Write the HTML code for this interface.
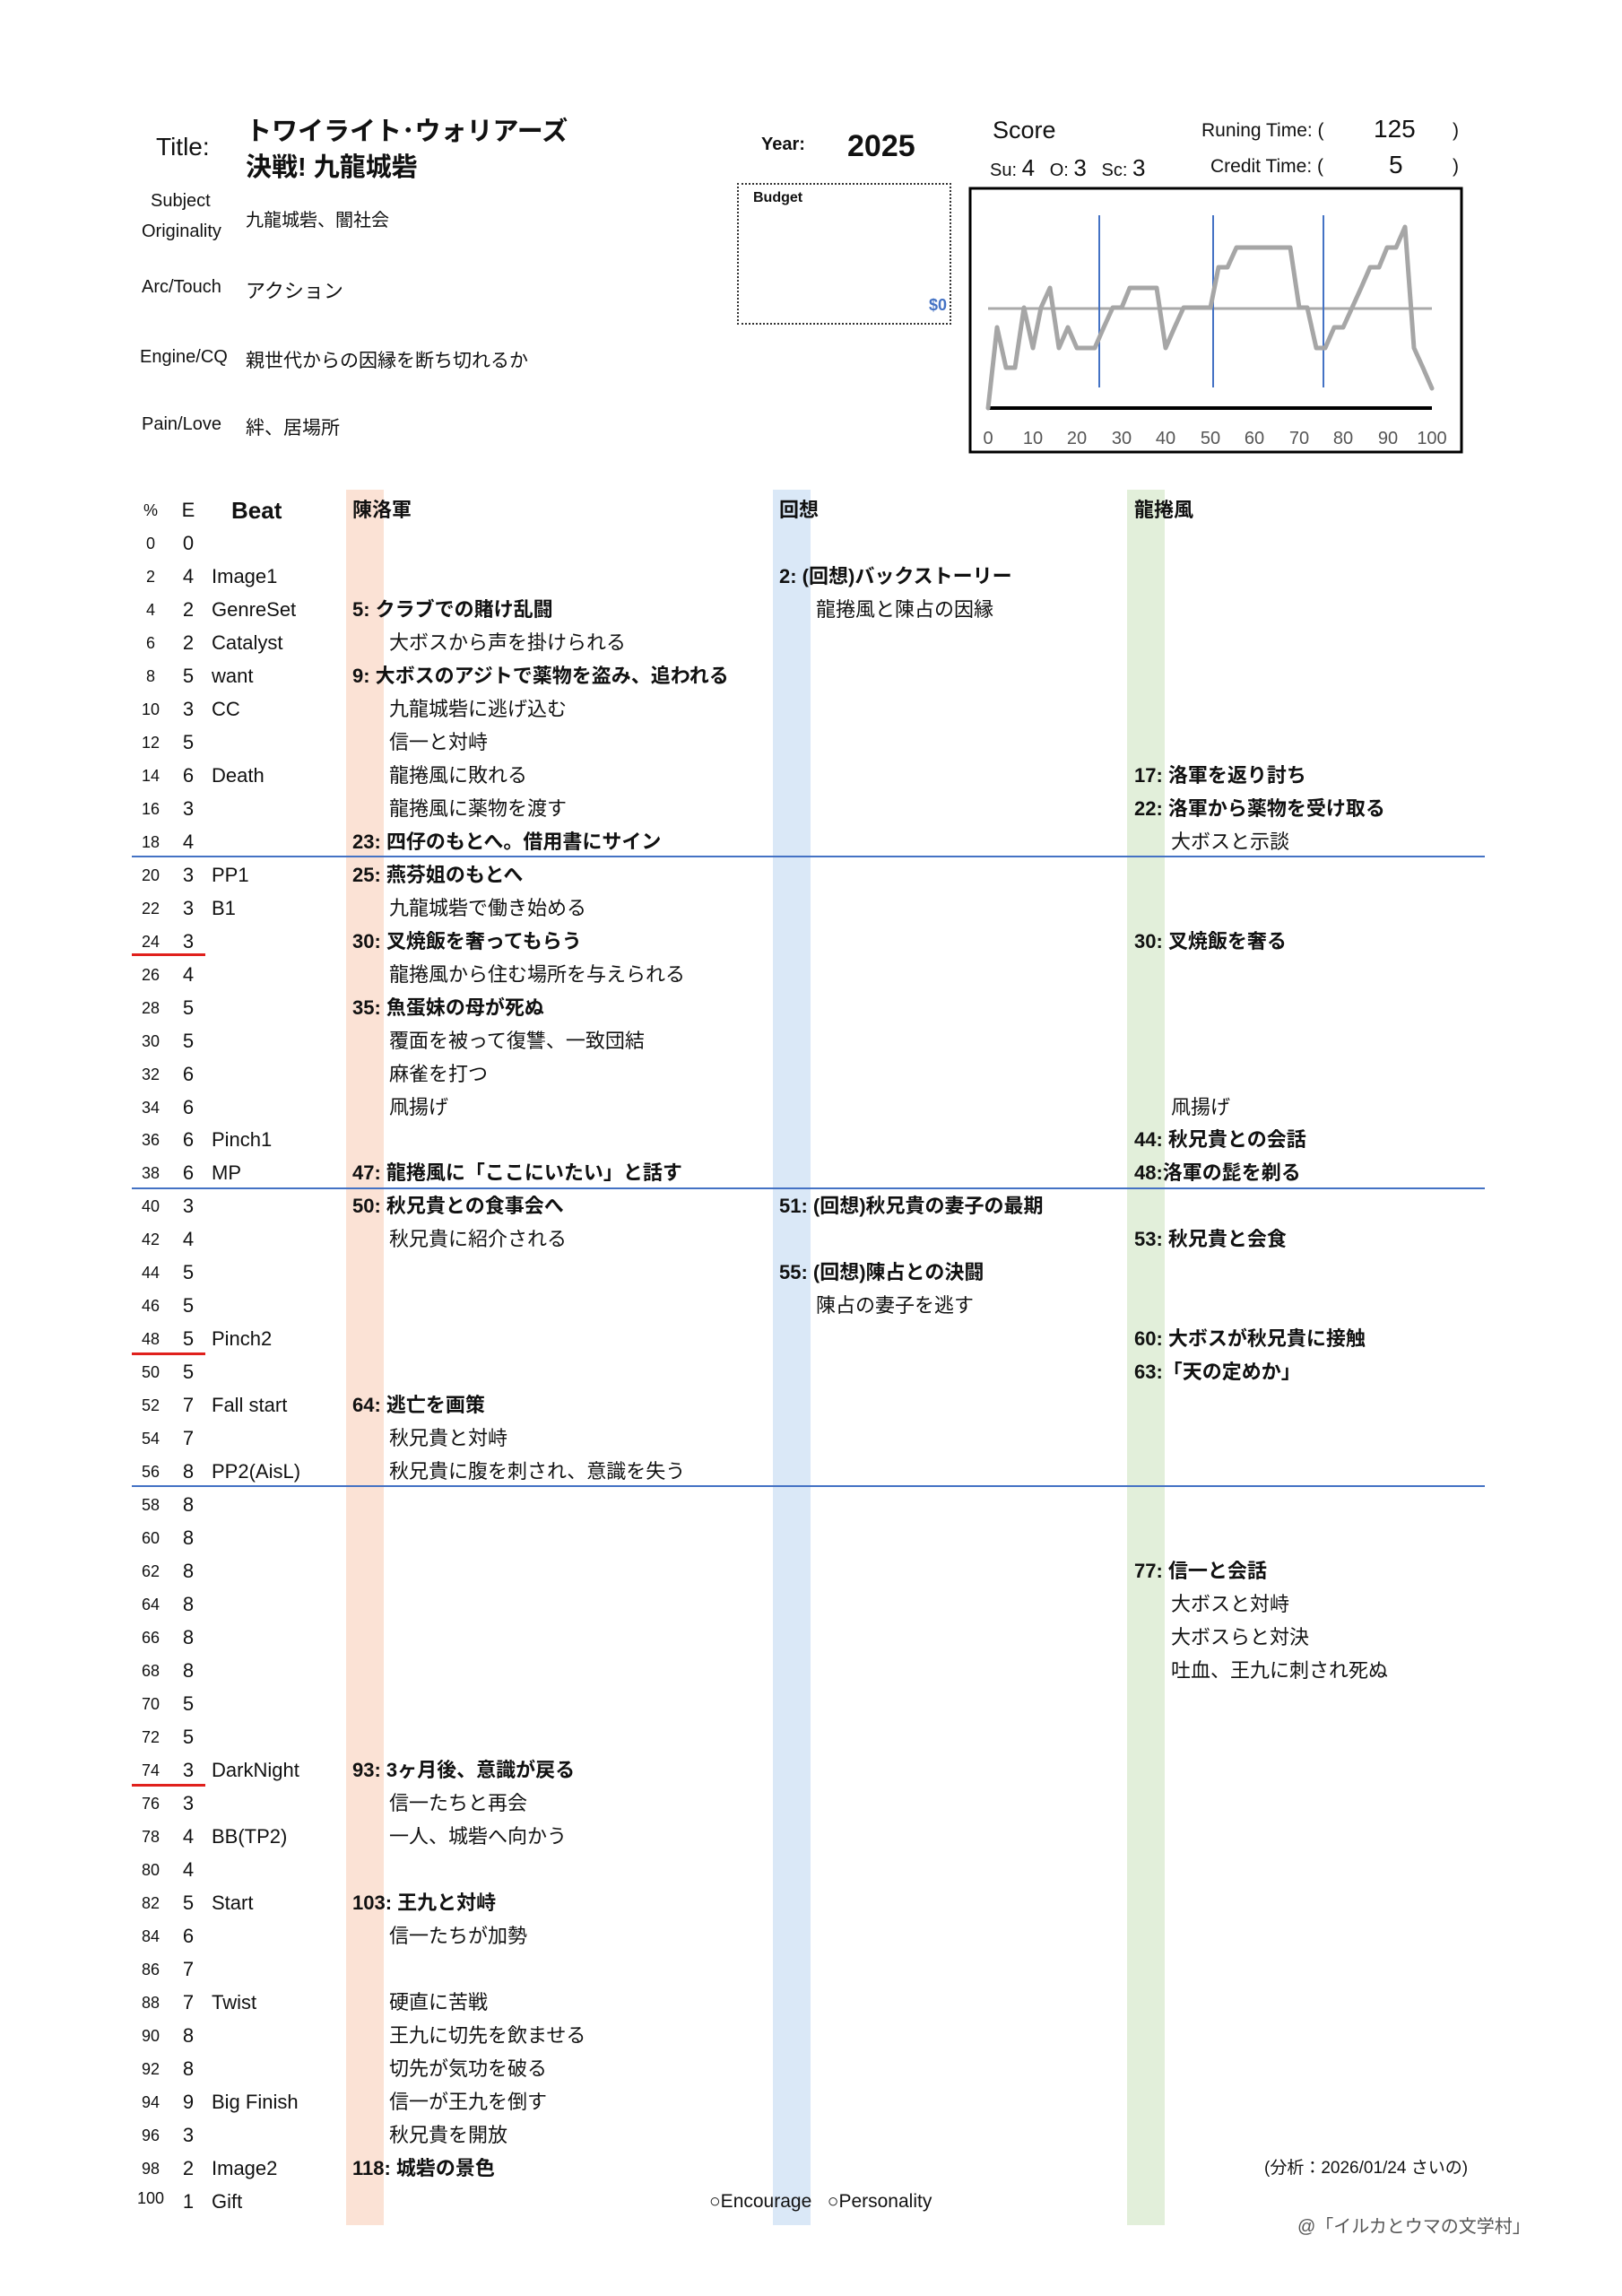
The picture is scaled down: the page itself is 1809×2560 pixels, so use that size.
<!DOCTYPE html>
<html><head><meta charset="utf-8">
<style>
body{margin:0;width:1809px;height:2560px;background:#fff;position:relative;overflow:hidden;font-family:"Liberation Sans","Noto Sans CJK JP",sans-serif;color:#111}
.a{position:absolute;white-space:nowrap}
.band{position:absolute;top:546px;height:1935px;width:42px}
.rows{position:absolute;left:0;top:3px;width:1809px;height:2540px}
.r{position:absolute;left:0;width:1809px;height:28px;line-height:28px;font-size:22px}
.r span{position:absolute;white-space:nowrap}
.p{left:148px;width:40px;text-align:center;font-size:18px}
.e{left:200px;width:20px;text-align:center}
.b{left:236px}
.c1{left:393px;font-weight:bold;font-size:22px}
.c1s{left:434px}
.c2{left:869px;font-weight:bold;font-size:22px}
.c2s{left:910px}
.c3{left:1265px;font-weight:bold;font-size:22px}
.c3s{left:1306px}
.hl{position:absolute;left:147px;width:1509px;height:2px;background:#4472c4}
.red{position:absolute;left:147px;width:82px;height:3px;background:#e0201c}
.lbl{font-size:20px}
</style></head><body>
<div class="band" style="left:386px;background:#fbe2d5"></div>
<div class="band" style="left:862px;background:#dae8f7"></div>
<div class="band" style="left:1257px;background:#e2efda"></div>

<div class="a" style="left:174px;top:148px;font-size:28px">Title:</div>
<div class="a" style="left:274px;top:127px;font-size:29px;font-weight:bold;line-height:40px">トワイライト･ウォリアーズ<br>決戦! 九龍城砦</div>
<div class="a lbl" style="left:168px;top:213px">Subject</div>
<div class="a lbl" style="left:158px;top:247px">Originality</div>
<div class="a lbl" style="left:274px;top:229px">九龍城砦、闇社会</div>
<div class="a lbl" style="left:158px;top:309px">Arc/Touch</div>
<div class="a" style="left:274px;top:307px;font-size:22px">アクション</div>
<div class="a lbl" style="left:156px;top:387px">Engine/CQ</div>
<div class="a" style="left:274px;top:386px;font-size:21px">親世代からの因縁を断ち切れるか</div>
<div class="a lbl" style="left:158px;top:462px">Pain/Love</div>
<div class="a" style="left:274px;top:461px;font-size:21px">絆、居場所</div>

<div class="a" style="left:849px;top:150px;font-size:20px;font-weight:bold">Year:</div>
<div class="a" style="left:945px;top:144px;font-size:34px;font-weight:bold">2025</div>
<div class="a" style="left:822px;top:204px;width:235px;height:154px;border:2px dotted #333"></div>
<div class="a" style="left:840px;top:212px;font-size:16px;font-weight:bold">Budget</div>
<div class="a" style="left:1036px;top:330px;font-size:18px;font-weight:bold;color:#4472c4">$0</div>

<div class="a" style="left:1107px;top:130px;font-size:27px">Score</div>
<div class="a" style="left:1340px;top:134px;font-size:21px">Runing Time: (</div>
<div class="a" style="left:1532px;top:128px;font-size:28px">125</div>
<div class="a" style="left:1620px;top:134px;font-size:21px">)</div>
<div class="a" style="left:1104px;top:172px;font-size:20px">Su: <span style="font-size:26px">4</span>&nbsp;&nbsp; O: <span style="font-size:26px">3</span>&nbsp;&nbsp; Sc: <span style="font-size:26px">3</span></div>
<div class="a" style="left:1350px;top:174px;font-size:21px">Credit Time: (</div>
<div class="a" style="left:1549px;top:168px;font-size:28px">5</div>
<div class="a" style="left:1620px;top:174px;font-size:21px">)</div>

<svg class="a" style="left:0;top:0" width="1809" height="520">
<rect x="1082" y="210" width="548" height="294" fill="none" stroke="#000" stroke-width="3"/>
<line x1="1102" y1="344" x2="1597" y2="344" stroke="#aaa" stroke-width="3"/>
<line x1="1102" y1="455" x2="1597" y2="455" stroke="#000" stroke-width="4"/>
<line x1="1226" y1="240" x2="1226" y2="432" stroke="#4472c4" stroke-width="2"/>
<line x1="1353" y1="240" x2="1353" y2="432" stroke="#4472c4" stroke-width="2"/>
<line x1="1476" y1="240" x2="1476" y2="432" stroke="#4472c4" stroke-width="2"/>
<polyline fill="none" stroke="#a6a6a6" stroke-width="5" stroke-linejoin="round" stroke-linecap="round" points="1102,455 1112,365 1122,410 1132,410 1142,343 1152,388 1161,343 1171,321 1181,388 1191,365 1201,388 1211,388 1221,388 1231,365 1241,343 1251,343 1260,321 1270,321 1280,321 1290,321 1300,388 1310,365 1320,343 1330,343 1340,343 1350,343 1359,298 1369,298 1379,276 1389,276 1399,276 1409,276 1419,276 1429,276 1439,276 1449,343 1458,343 1468,388 1478,388 1488,365 1498,365 1508,343 1518,321 1528,298 1538,298 1547,276 1557,276 1567,253 1577,388 1587,410 1597,433"/>
<g font-family="Liberation Sans, sans-serif" font-size="20" fill="#555" text-anchor="middle">
<text x="1102" y="495">0</text><text x="1152" y="495">10</text><text x="1201" y="495">20</text><text x="1251" y="495">30</text><text x="1300" y="495">40</text><text x="1350" y="495">50</text><text x="1399" y="495">60</text><text x="1449" y="495">70</text><text x="1498" y="495">80</text><text x="1548" y="495">90</text><text x="1597" y="495">100</text>
</g>
</svg>

<div class="rows">
<div class="r" style="top:552px"><span class="p">%</span><span class="e">E</span><span style="left:258px;font-weight:bold;font-size:26px">Beat</span><span class="c1">陳洛軍</span><span class="c2">回想</span><span class="c3">龍捲風</span></div>

<div class="hl" style="top:951px"></div>
<div class="hl" style="top:1321px"></div>
<div class="hl" style="top:1653px"></div>
<div class="red" style="top:1060px"></div>
<div class="red" style="top:1505px"></div>
<div class="red" style="top:1986px"></div>

<div class="r" style="top:589px"><span class="p">0</span><span class="e">0</span></div>
<div class="r" style="top:626px"><span class="p">2</span><span class="e">4</span><span class="b">Image1</span><span class="c2">2: (回想)バックストーリー</span></div>
<div class="r" style="top:663px"><span class="p">4</span><span class="e">2</span><span class="b">GenreSet</span><span class="c1">5: クラブでの賭け乱闘</span><span class="c2s">龍捲風と陳占の因縁</span></div>
<div class="r" style="top:700px"><span class="p">6</span><span class="e">2</span><span class="b">Catalyst</span><span class="c1s">大ボスから声を掛けられる</span></div>
<div class="r" style="top:737px"><span class="p">8</span><span class="e">5</span><span class="b">want</span><span class="c1">9: 大ボスのアジトで薬物を盗み、追われる</span></div>
<div class="r" style="top:774px"><span class="p">10</span><span class="e">3</span><span class="b">CC</span><span class="c1s">九龍城砦に逃げ込む</span></div>
<div class="r" style="top:811px"><span class="p">12</span><span class="e">5</span><span class="c1s">信一と対峙</span></div>
<div class="r" style="top:848px"><span class="p">14</span><span class="e">6</span><span class="b">Death</span><span class="c1s">龍捲風に敗れる</span><span class="c3">17: 洛軍を返り討ち</span></div>
<div class="r" style="top:885px"><span class="p">16</span><span class="e">3</span><span class="c1s">龍捲風に薬物を渡す</span><span class="c3">22: 洛軍から薬物を受け取る</span></div>
<div class="r" style="top:922px"><span class="p">18</span><span class="e">4</span><span class="c1">23: 四仔のもとへ。借用書にサイン</span><span class="c3s">大ボスと示談</span></div>
<div class="r" style="top:959px"><span class="p">20</span><span class="e">3</span><span class="b">PP1</span><span class="c1">25: 燕芬姐のもとへ</span></div>
<div class="r" style="top:996px"><span class="p">22</span><span class="e">3</span><span class="b">B1</span><span class="c1s">九龍城砦で働き始める</span></div>
<div class="r" style="top:1033px"><span class="p">24</span><span class="e">3</span><span class="c1">30: 叉焼飯を奢ってもらう</span><span class="c3">30: 叉焼飯を奢る</span></div>
<div class="r" style="top:1070px"><span class="p">26</span><span class="e">4</span><span class="c1s">龍捲風から住む場所を与えられる</span></div>
<div class="r" style="top:1107px"><span class="p">28</span><span class="e">5</span><span class="c1">35: 魚蛋妹の母が死ぬ</span></div>
<div class="r" style="top:1144px"><span class="p">30</span><span class="e">5</span><span class="c1s">覆面を被って復讐、一致団結</span></div>
<div class="r" style="top:1181px"><span class="p">32</span><span class="e">6</span><span class="c1s">麻雀を打つ</span></div>
<div class="r" style="top:1218px"><span class="p">34</span><span class="e">6</span><span class="c1s">凧揚げ</span><span class="c3s">凧揚げ</span></div>
<div class="r" style="top:1254px"><span class="p">36</span><span class="e">6</span><span class="b">Pinch1</span><span class="c3">44: 秋兄貴との会話</span></div>
<div class="r" style="top:1291px"><span class="p">38</span><span class="e">6</span><span class="b">MP</span><span class="c1">47: 龍捲風に「ここにいたい」と話す</span><span class="c3">48:洛軍の髭を剃る</span></div>
<div class="r" style="top:1328px"><span class="p">40</span><span class="e">3</span><span class="c1">50: 秋兄貴との食事会へ</span><span class="c2">51: (回想)秋兄貴の妻子の最期</span></div>
<div class="r" style="top:1365px"><span class="p">42</span><span class="e">4</span><span class="c1s">秋兄貴に紹介される</span><span class="c3">53: 秋兄貴と会食</span></div>
<div class="r" style="top:1402px"><span class="p">44</span><span class="e">5</span><span class="c2">55: (回想)陳占との決闘</span></div>
<div class="r" style="top:1439px"><span class="p">46</span><span class="e">5</span><span class="c2s">陳占の妻子を逃す</span></div>
<div class="r" style="top:1476px"><span class="p">48</span><span class="e">5</span><span class="b">Pinch2</span><span class="c3">60: 大ボスが秋兄貴に接触</span></div>
<div class="r" style="top:1513px"><span class="p">50</span><span class="e">5</span><span class="c3">63:「天の定めか」</span></div>
<div class="r" style="top:1550px"><span class="p">52</span><span class="e">7</span><span class="b">Fall start</span><span class="c1">64: 逃亡を画策</span></div>
<div class="r" style="top:1587px"><span class="p">54</span><span class="e">7</span><span class="c1s">秋兄貴と対峙</span></div>
<div class="r" style="top:1624px"><span class="p">56</span><span class="e">8</span><span class="b">PP2(AisL)</span><span class="c1s">秋兄貴に腹を刺され、意識を失う</span></div>
<div class="r" style="top:1661px"><span class="p">58</span><span class="e">8</span></div>
<div class="r" style="top:1698px"><span class="p">60</span><span class="e">8</span></div>
<div class="r" style="top:1735px"><span class="p">62</span><span class="e">8</span><span class="c3">77: 信一と会話</span></div>
<div class="r" style="top:1772px"><span class="p">64</span><span class="e">8</span><span class="c3s">大ボスと対峙</span></div>
<div class="r" style="top:1809px"><span class="p">66</span><span class="e">8</span><span class="c3s">大ボスらと対決</span></div>
<div class="r" style="top:1846px"><span class="p">68</span><span class="e">8</span><span class="c3s">吐血、王九に刺され死ぬ</span></div>
<div class="r" style="top:1883px"><span class="p">70</span><span class="e">5</span></div>
<div class="r" style="top:1920px"><span class="p">72</span><span class="e">5</span></div>
<div class="r" style="top:1957px"><span class="p">74</span><span class="e">3</span><span class="b">DarkNight</span><span class="c1">93: 3ヶ月後、意識が戻る</span></div>
<div class="r" style="top:1994px"><span class="p">76</span><span class="e">3</span><span class="c1s">信一たちと再会</span></div>
<div class="r" style="top:2031px"><span class="p">78</span><span class="e">4</span><span class="b">BB(TP2)</span><span class="c1s">一人、城砦へ向かう</span></div>
<div class="r" style="top:2068px"><span class="p">80</span><span class="e">4</span></div>
<div class="r" style="top:2105px"><span class="p">82</span><span class="e">5</span><span class="b">Start</span><span class="c1">103: 王九と対峙</span></div>
<div class="r" style="top:2142px"><span class="p">84</span><span class="e">6</span><span class="c1s">信一たちが加勢</span></div>
<div class="r" style="top:2179px"><span class="p">86</span><span class="e">7</span></div>
<div class="r" style="top:2216px"><span class="p">88</span><span class="e">7</span><span class="b">Twist</span><span class="c1s">硬直に苦戦</span></div>
<div class="r" style="top:2253px"><span class="p">90</span><span class="e">8</span><span class="c1s">王九に切先を飲ませる</span></div>
<div class="r" style="top:2290px"><span class="p">92</span><span class="e">8</span><span class="c1s">切先が気功を破る</span></div>
<div class="r" style="top:2327px"><span class="p">94</span><span class="e">9</span><span class="b">Big Finish</span><span class="c1s">信一が王九を倒す</span></div>
<div class="r" style="top:2364px"><span class="p">96</span><span class="e">3</span><span class="c1s">秋兄貴を開放</span></div>
<div class="r" style="top:2401px"><span class="p">98</span><span class="e">2</span><span class="b">Image2</span><span class="c1">118: 城砦の景色</span><span style="left:1410px;font-size:19px">(分析：2026/01/24 さいの)</span></div>
<div class="r" style="top:2438px"><span class="p" style="top:-4px">100</span><span class="e">1</span><span class="b">Gift</span><span style="left:791px;font-size:21px">○Encourage&nbsp;&nbsp; ○Personality</span></div>
</div>
<div class="a" style="left:1447px;top:2466px;font-size:20px;color:#555">@「イルカとウマの文学村」</div>
</body></html>
